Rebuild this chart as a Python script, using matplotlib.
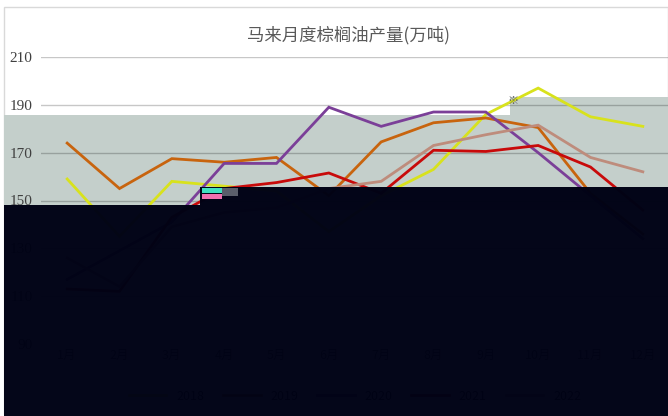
import matplotlib
matplotlib.use("Agg")
import matplotlib.pyplot as plt
from matplotlib.patches import Rectangle, Polygon

# ---- data ----
months = ['1月', '2月', '3月', '4月', '5月', '6月', '7月', '8月', '9月', '10月', '11月', '12月']
series_names = ['2018', '2019', '2020', '2021', '2022']
y2018 = [159, 135, 158, 156, 154, 137, 152, 163, 186, 197, 185, 181]
y2019 = [174, 155, 167.5, 166, 168, 152, 174.5, 182.5, 184.5, 180.5, 153, 136]
y2020 = [117, 129, 141, 165.5, 165.5, 189, 181, 187, 187, 170, 152, 134]
y2021 = [113, 112, 143, 155, 157.5, 161.5, 153, 171, 170.5, 173, 164, 146]
y2022 = [126, 114, 139, 145, 147, 155, 158, 173, 177.5, 181.5, 168, 162]
yticks = [90, 110, 130, 150, 170, 190, 210]
title = '马来月度棕榈油产量(万吨)'

colors = ['#D8E21C', '#C8640E', '#7B3F98', '#C80A0A', '#BE8C7C']

W, H = 668, 416
fig = plt.figure(figsize=(W / 100, H / 100), dpi=100)
fig.patch.set_facecolor('white')

def fx(px):
    return px / W

def fy(py):
    return 1 - py / H

# outer chart border
fig.add_artist(Rectangle((fx(4), fy(414)), fx(668) - fx(4), fy(7) - fy(414),
                         transform=fig.transFigure, facecolor='none',
                         edgecolor='#D9D9D9', lw=1, zorder=-2))

# grey-green band behind the plot
band = Polygon([(fx(4), fy(115)), (fx(510), fy(115)), (fx(510), fy(97)),
                (fx(668), fy(97)), (fx(668), fy(210)), (fx(4), fy(210))],
               closed=True, transform=fig.transFigure, facecolor='#C4CFCB',
               edgecolor='none', zorder=-1)
fig.add_artist(band)

ax = fig.add_axes([fx(41), fy(344), fx(669) - fx(41), fy(57) - fy(344)])
ax.set_facecolor('none')

x = list(range(len(months)))
for vals, c, name in zip([y2018, y2019, y2020, y2021, y2022], colors, series_names):
    ax.plot(x, vals, color=c, lw=2.0, label=name, solid_joinstyle='miter', zorder=3)

ax.set_xlim(-0.5, len(months) - 0.5)
ax.set_ylim(90, 210)
ax.set_yticks(yticks)
ax.set_xticks(x)
ax.set_xticklabels(months, fontsize=9, color='#404040', family=['Noto Sans CJK SC', 'DejaVu Sans'])
ax.set_yticklabels([str(v) for v in yticks], fontsize=11, color='#404040',
                   family=['Liberation Serif', 'DejaVu Serif'])
ax.tick_params(axis='both', length=0)
ax.tick_params(axis='y', pad=6)
ax.yaxis.grid(True, color='black', alpha=0.22, lw=1)
ax.set_axisbelow(True)
for s in ax.spines.values():
    s.set_visible(False)

ax.legend(loc='upper center', bbox_to_anchor=(0.5, -0.12), ncol=5, frameon=False,
          prop={'family': ['Noto Sans CJK SC', 'DejaVu Sans'], 'size': 9},
          handlelength=3.0, columnspacing=1.5)

fig.text(fx(348), fy(35), title, ha='center', va='center', fontsize=12.5,
         color='#595959', family=['Noto Sans CJK SC', 'DejaVu Sans'])
fig.text(fx(513), fy(101), '※', ha='center', va='center', fontsize=8,
         color='#606060', family=['Noto Sans CJK SC', 'DejaVu Sans'], zorder=6)

# dark overlay region
dark = Polygon([(fx(4), fy(205)), (fx(200), fy(205)), (fx(200), fy(187)),
                (fx(668), fy(187)), (fx(668), fy(416)), (fx(4), fy(416))],
               closed=True, transform=fig.transFigure, facecolor='#000215',
               edgecolor='none', alpha=0.985, zorder=5)
fig.add_artist(dark)
# small glitch blocks
fig.add_artist(Rectangle((fx(202), fy(193)), fx(20), fy(188) - fy(193),
                         transform=fig.transFigure, facecolor='#3FE0C0', edgecolor='none', zorder=6))
fig.add_artist(Rectangle((fx(202), fy(199)), fx(20), fy(194) - fy(199),
                         transform=fig.transFigure, facecolor='#F070B0', edgecolor='none', zorder=6))
fig.add_artist(Rectangle((fx(222), fy(196)), fx(16), fy(188) - fy(196),
                         transform=fig.transFigure, facecolor='#5A5E6A', edgecolor='none', zorder=6))

fig.savefig('out.png', dpi=100)
